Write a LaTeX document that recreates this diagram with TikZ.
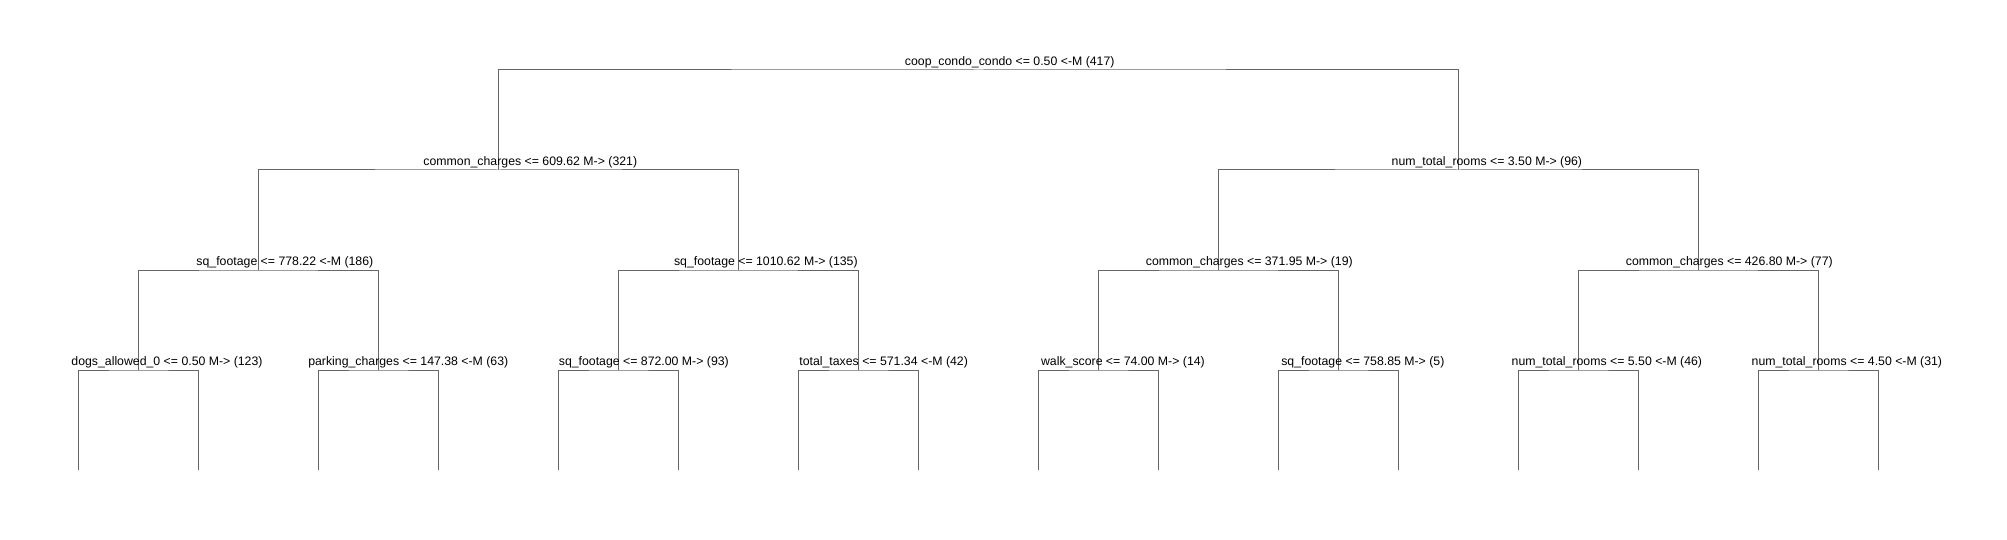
\documentclass[tikz,border=0pt]{standalone}
\usepackage{fontspec}
\setmainfont{Liberation Sans}
\newsavebox\lblbox
\newcommand{\lbl}[1]{\sbox\lblbox{#1}\hspace*{0.296\wd\lblbox}\usebox\lblbox}
\begin{document}
\begin{tikzpicture}[x=1pt,y=-1pt,
  bar/.style={draw=black!60,line width=1pt,line join=miter},
  lab/.style={anchor=base,inner sep=0pt,yshift=4.5pt,font=\fontsize{12.3}{14}\selectfont}]
\useasboundingbox (0,0) rectangle (2007,540);
% split points
\coordinate (n0) at (978.7,70);
\coordinate (n1) at (498.7,170);
\coordinate (n2) at (1458.7,170);
\coordinate (n11) at (258.7,270);
\coordinate (n12) at (738.7,270);
\coordinate (n21) at (1218.7,270);
\coordinate (n22) at (1698.7,270);
\foreach \i in {1,...,8}{
  \coordinate (m\i) at ({138.7+240*(\i-1)},370);
}
\foreach \i in {1,...,16}{
  \coordinate (f\i) at ({78.7+120*(\i-1)},470);
}
% connectors
\draw[bar] (n1) |- (n0) -| (n2);
\draw[bar] (n11) |- (n1) -| (n12);
\draw[bar] (n21) |- (n2) -| (n22);
\draw[bar] (m1) |- (n11) -| (m2);
\draw[bar] (m3) |- (n12) -| (m4);
\draw[bar] (m5) |- (n21) -| (m6);
\draw[bar] (m7) |- (n22) -| (m8);
\foreach \i in {1,...,8}{
  \pgfmathtruncatemacro{\a}{2*\i-1}
  \pgfmathtruncatemacro{\b}{2*\i}
  \draw[bar] (f\a) |- (m\i) -| (f\b);
}
% labels
\node[lab] (t0) at (n0) {\lbl{coop\_condo\_condo <= 0.50 <-M (417)}};
\node[lab] (t1) at (n1) {\lbl{common\_charges <= 609.62 M-> (321)}};
\node[lab] (t2) at (n2) {\lbl{num\_total\_rooms <= 3.50 M-> (96)}};
\node[lab] (t11) at (n11) {\lbl{sq\_footage <= 778.22 <-M (186)}};
\node[lab] (t12) at (n12) {\lbl{sq\_footage <= 1010.62 M-> (135)}};
\node[lab] (t21) at (n21) {\lbl{common\_charges <= 371.95 M-> (19)}};
\node[lab] (t22) at (n22) {\lbl{common\_charges <= 426.80 M-> (77)}};
\node[lab] (u1) at (m1) {\lbl{dogs\_allowed\_0 <= 0.50 M-> (123)}};
\node[lab] (u2) at (m2) {\lbl{parking\_charges <= 147.38 <-M (63)}};
\node[lab] (u3) at (m3) {\lbl{sq\_footage <= 872.00 M-> (93)}};
\node[lab] (u4) at (m4) {\lbl{total\_taxes <= 571.34 <-M (42)}};
\node[lab] (u5) at (m5) {\lbl{walk\_score <= 74.00 M-> (14)}};
\node[lab] (u6) at (m6) {\lbl{sq\_footage <= 758.85 M-> (5)}};
\node[lab] (u7) at (m7) {\lbl{num\_total\_rooms <= 5.50 <-M (46)}};
\node[lab] (u8) at (m8) {\lbl{num\_total\_rooms <= 4.50 <-M (31)}};
\end{tikzpicture}
\end{document}
